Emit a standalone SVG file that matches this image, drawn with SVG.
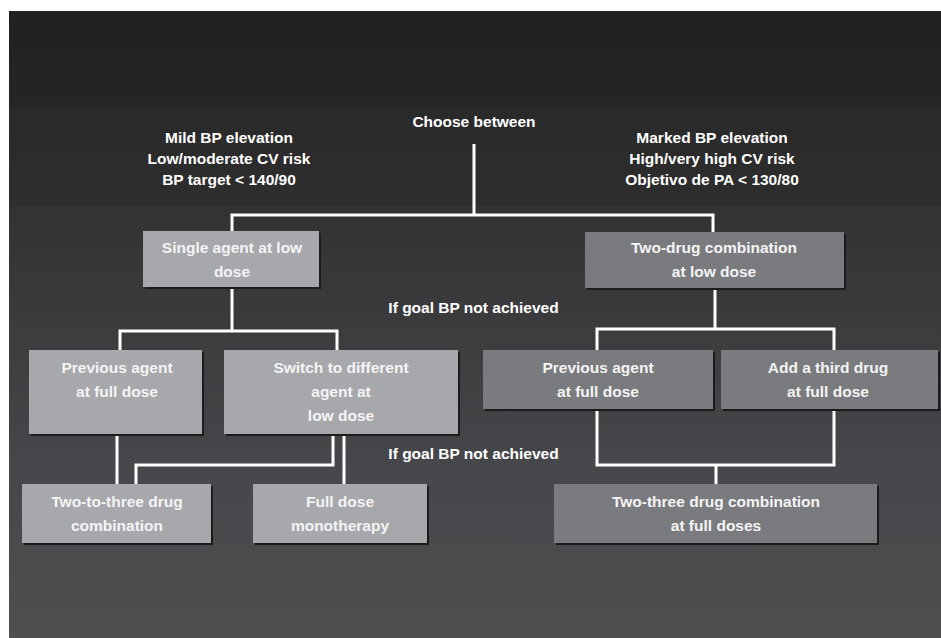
<svg xmlns="http://www.w3.org/2000/svg" width="941" height="638" viewBox="0 0 941 638">
<defs>
<linearGradient id="bgTop" x1="0" y1="0" x2="0" y2="1">
<stop offset="0" stop-color="#222021"/>
<stop offset="1" stop-color="#262526"/>
</linearGradient>
<linearGradient id="bgMid" x1="0" y1="0" x2="0" y2="1">
<stop offset="0" stop-color="#2a292a"/>
<stop offset="1" stop-color="#2e2e2f"/>
</linearGradient>
<linearGradient id="bgLow" x1="0" y1="0" x2="0" y2="1">
<stop offset="0" stop-color="#323234"/>
<stop offset="0.6" stop-color="#46474a"/>
<stop offset="1" stop-color="#4e4f51"/>
</linearGradient>
</defs>
<style>
.lbl{font-family:"Liberation Sans",Arial,sans-serif;font-weight:bold;font-size:15.5px;fill:#ffffff;text-anchor:middle}
.btx{font-family:"Liberation Sans",Arial,sans-serif;font-weight:bold;font-size:15.5px;fill:#f4f4f4;text-anchor:middle}
.light{fill:#a7a8ab}
.dark{fill:#7a7b7e}
.shadow{fill:#1c1c1d}
.conn{fill:none;stroke:#ffffff;stroke-width:3}
</style>
<rect x="0" y="0" width="941" height="638" fill="#ffffff"/>
<rect x="9" y="11" width="932" height="96" fill="url(#bgTop)"/>
<rect x="9" y="106" width="932" height="101" fill="url(#bgMid)"/>
<rect x="9" y="206" width="932" height="432" fill="url(#bgLow)"/>

<g id="labels">
<text class="lbl" x="474" y="127">Choose between</text>
<text class="lbl" x="229" y="143">Mild BP elevation</text>
<text class="lbl" x="229" y="164">Low/moderate CV risk</text>
<text class="lbl" x="229" y="185">BP target &lt; 140/90</text>
<text class="lbl" x="712" y="143">Marked BP elevation</text>
<text class="lbl" x="712" y="164">High/very high CV risk</text>
<text class="lbl" x="712" y="185">Objetivo de PA &lt; 130/80</text>
<text class="lbl" x="473.5" y="313">If goal BP not achieved</text>
<text class="lbl" x="473.5" y="459">If goal BP not achieved</text>
</g>

<g id="connectors">
<path class="conn" d="M474,144 V215"/>
<path class="conn" d="M232,231 V215 H713 V232"/>
<path class="conn" d="M232,287 V331"/>
<path class="conn" d="M120,350 V331 H337 V350"/>
<path class="conn" d="M117,434 V484"/>
<path class="conn" d="M333,434 V465 H136 V484"/>
<path class="conn" d="M344,434 V484"/>
<path class="conn" d="M715,288 V329"/>
<path class="conn" d="M597,350 V329 H834 V350"/>
<path class="conn" d="M597,409 V465 H834 V409"/>
<path class="conn" d="M716,465 V484"/>
</g>

<g id="n-single">
<rect class="shadow" x="145" y="233" width="176" height="56"/>
<rect class="light" x="143" y="231" width="176" height="56"/>
<text class="btx" x="232" y="253">Single agent at low</text>
<text class="btx" x="232" y="277">dose</text>
</g>
<g id="n-twodrug">
<rect class="shadow" x="587" y="234" width="259" height="56"/>
<rect class="dark" x="585" y="232" width="259" height="56"/>
<text class="btx" x="714" y="253">Two-drug combination</text>
<text class="btx" x="714" y="277">at low dose</text>
</g>
<g id="n-prev-left">
<rect class="shadow" x="31" y="352" width="173" height="84"/>
<rect class="light" x="29" y="350" width="173" height="84"/>
<text class="btx" x="117" y="373">Previous agent</text>
<text class="btx" x="117" y="397">at full dose</text>
</g>
<g id="n-switch">
<rect class="shadow" x="226" y="352" width="234" height="84"/>
<rect class="light" x="224" y="350" width="234" height="84"/>
<text class="btx" x="341" y="373">Switch to different</text>
<text class="btx" x="341" y="397">agent at</text>
<text class="btx" x="341" y="421">low dose</text>
</g>
<g id="n-prev-right">
<rect class="shadow" x="485" y="352" width="230" height="59"/>
<rect class="dark" x="483" y="350" width="230" height="59"/>
<text class="btx" x="598" y="373">Previous agent</text>
<text class="btx" x="598" y="397">at full dose</text>
</g>
<g id="n-third">
<rect class="shadow" x="723" y="352" width="217" height="59"/>
<rect class="dark" x="721" y="350" width="217" height="59"/>
<text class="btx" x="828" y="373">Add a third drug</text>
<text class="btx" x="828" y="397">at full dose</text>
</g>
<g id="n-twotothree">
<rect class="shadow" x="24" y="486" width="189" height="59"/>
<rect class="light" x="22" y="484" width="189" height="59"/>
<text class="btx" x="117" y="507">Two-to-three drug</text>
<text class="btx" x="117" y="531">combination</text>
</g>
<g id="n-fulldose">
<rect class="shadow" x="255" y="486" width="174" height="59"/>
<rect class="light" x="253" y="484" width="174" height="59"/>
<text class="btx" x="340" y="507">Full dose</text>
<text class="btx" x="340" y="531">monotherapy</text>
</g>
<g id="n-twothree">
<rect class="shadow" x="556" y="486" width="323" height="59"/>
<rect class="dark" x="554" y="484" width="323" height="59"/>
<text class="btx" x="716" y="507">Two-three drug combination</text>
<text class="btx" x="716" y="531">at full doses</text>
</g>
</svg>
